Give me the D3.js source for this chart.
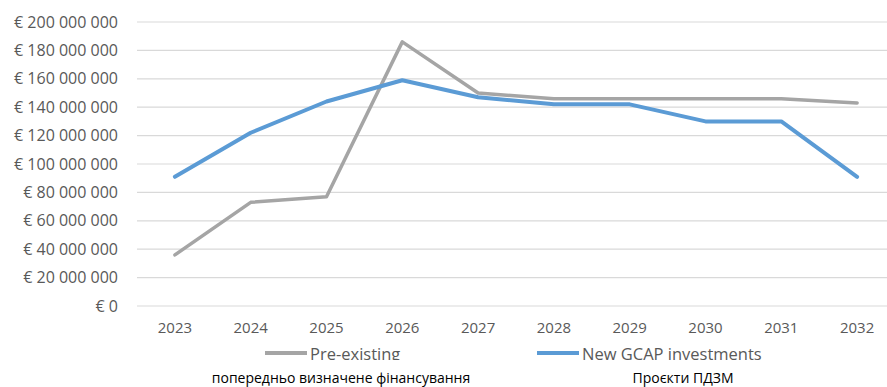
<!DOCTYPE html>
<html>
<head>
<meta charset="utf-8">
<script src="https://cdn.jsdelivr.net/npm/d3@7"></script>
<style>
  body { margin: 0; background: #fff; }
  svg { display: block; font-family: "Open Sans", "Liberation Sans", sans-serif; }
</style>
</head>
<body>
<div id="chart"></div>
<script>
'use strict';

var years       = [2023, 2024, 2025, 2026, 2027, 2028, 2029, 2030, 2031, 2032];
var preExisting = [36e6, 73e6, 77e6, 186e6, 150e6, 146e6, 146e6, 146e6, 146e6, 143e6];
var newGcap     = [91e6, 122e6, 144e6, 159e6, 147e6, 142e6, 142e6, 130e6, 130e6, 91e6];
var yTicks      = [0, 20e6, 40e6, 60e6, 80e6, 100e6, 120e6, 140e6, 160e6, 180e6, 200e6];
var seriesNames = ['Pre-existing', 'New GCAP investments'];
var subLabels   = ['попередньо визначене фінансування', 'Проєкти ПДЗМ'];
var colors      = ['#a5a5a5', '#5b9bd5'];

var svgWidth = 887, svgHeight = 387;
var margin = {left: 137, right: -8, top: 22, bottom: 81};
var width  = svgWidth - margin.left - margin.right,
    height = svgHeight - margin.top - margin.bottom;

var svg = d3.select('#chart').append('svg')
    .attr('width', svgWidth)
    .attr('height', svgHeight);

var g = svg.append('g').attr('transform', 'translate(' + [margin.left, margin.top] + ')');

var x = d3.scaleBand().domain(years).range([0, width]);
var y = d3.scaleLinear().domain([0, 200e6]).range([height, 0]);

var fmt = function(v) {
    return '€ ' + d3.format(',')(v).replace(/,/g, ' ');
};

// gridlines
g.selectAll('.grid').data(yTicks).enter().append('line')
    .attr('x1', 0).attr('x2', width)
    .attr('y1', function(d) { return y(d); })
    .attr('y2', function(d) { return y(d); })
    .attr('stroke', '#d9d9d9').attr('stroke-width', 1.2);

// y labels
g.selectAll('.ylab').data(yTicks).enter().append('text')
    .attr('x', -19)
    .attr('y', function(d) { return y(d); })
    .attr('dy', '0.35em')
    .attr('text-anchor', 'end')
    .attr('fill', '#595959')
    .style('font-size', '16px')
    .text(fmt);

// x labels
g.selectAll('.xlab').data(years).enter().append('text')
    .attr('x', function(d) { return x(d) + x.bandwidth() / 2; })
    .attr('y', height + 22)
    .attr('dy', '0.35em')
    .attr('text-anchor', 'middle')
    .attr('fill', '#595959')
    .style('font-size', '15px')
    .text(function(d) { return d; });

var line = d3.line()
    .x(function(d, i) { return x(years[i]) + x.bandwidth() / 2; })
    .y(function(d) { return y(d); });

[preExisting, newGcap].forEach(function(s, i) {
    g.append('path')
        .datum(s)
        .attr('d', line)
        .attr('fill', 'none')
        .attr('stroke', colors[i])
        .attr('stroke-width', i === 0 ? 3.5 : 4)
        .attr('stroke-linejoin', 'round')
        .attr('stroke-linecap', 'round');
});

// legend
var legendX = [265, 537];
seriesNames.forEach(function(name, i) {
    svg.append('line')
        .attr('x1', legendX[i]).attr('x2', legendX[i] + 42)
        .attr('y1', 353).attr('y2', 353)
        .attr('stroke', colors[i]).attr('stroke-width', 4);
    svg.append('text')
        .attr('x', legendX[i] + 45)
        .attr('y', 360)
        .attr('fill', '#595959')
        .style('font-size', '16.5px')
        .text(name);
});

// cover strip (legend is cut off in the original)
svg.append('rect')
    .attr('x', 0).attr('y', 360)
    .attr('width', svgWidth).attr('height', svgHeight - 360)
    .attr('fill', '#fff');

var subX = [341, 683];
subLabels.forEach(function(t, i) {
    svg.append('text')
        .attr('x', subX[i])
        .attr('y', 378)
        .attr('dy', '0.35em')
        .attr('text-anchor', 'middle')
        .attr('fill', '#000')
        .style('font-size', '14px')
        .text(t);
});
</script>
</body>
</html>
